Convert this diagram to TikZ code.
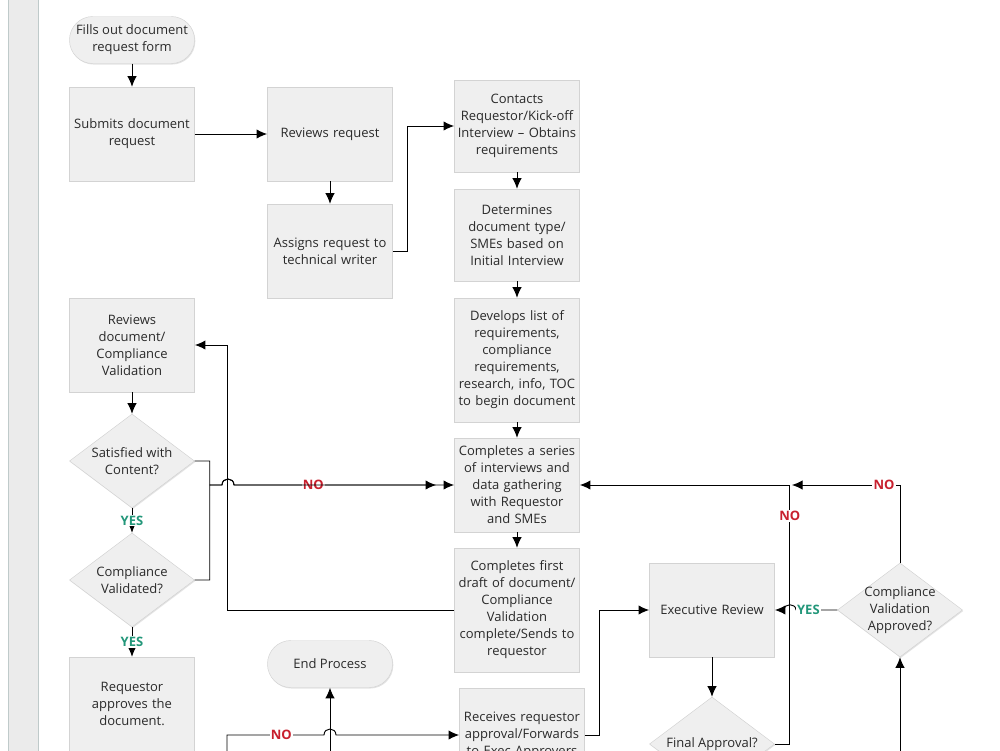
\documentclass[tikz,border=0pt]{standalone}
\usepackage{fontspec}
\setmainfont{Open Sans}
\usetikzlibrary{arrows.meta,shapes.geometric,shadows,positioning}
\definecolor{boxfill}{HTML}{EFEFEF}
\definecolor{boxline}{HTML}{D3D3D3}
\definecolor{lanecol}{HTML}{BFCACA}
\definecolor{bandfill}{HTML}{EBEBEB}
\definecolor{txtcol}{HTML}{2A2A2A}
\definecolor{nored}{HTML}{C8202E}
\definecolor{yesgreen}{HTML}{23977A}
\tikzset{>={Latex[length=9pt,width=8pt]}}
\tikzset{
  every node/.style={font=\fontsize{11.1}{14.5}\selectfont, text=txtcol},
  procbox/.style={rectangle, fill=boxfill, draw=boxline,
    drop shadow={opacity=0.22, shadow xshift=0.7pt, shadow yshift=-0.9pt},
    minimum width=3.75cm, minimum height=2.82cm, text width=3.7cm,
    inner sep=0.3mm, align=center},
  tallbox/.style={procbox, minimum height=3.72cm},
  termbox/.style={rectangle, rounded corners=0.7cm, fill=boxfill, draw=boxline,
    drop shadow={opacity=0.22, shadow xshift=0.7pt, shadow yshift=-0.9pt},
    minimum width=3.75cm, minimum height=1.41cm, align=center, inner sep=0.5mm},
  decbox/.style={diamond, fill=boxfill, draw=boxline,
    drop shadow={opacity=0.22, shadow xshift=0.7pt, shadow yshift=-0.9pt},
    aspect=1.33, inner sep=-0.3cm, minimum width=3.75cm, minimum height=2.82cm,
    align=center},
  flow/.style={->, line width=0.8pt, black},
  nolab/.style={font=\fontsize{11.1}{14.5}\selectfont\bfseries, text=nored,
    fill=white, inner sep=1pt},
  yeslab/.style={font=\fontsize{11.1}{14.5}\selectfont\bfseries, text=yesgreen,
    fill=white, inner sep=1pt},
  lane/.style={draw=lanecol, line width=0.55pt, double, double distance=0.9pt}
}
\begin{document}
\begin{tikzpicture}[x=0.03cm, y=-0.03cm]
\useasboundingbox (0,0) rectangle (1000,750);
\clip (0,0) rectangle (1000,750);
\fill[white] (0,0) rectangle (1000,750);
\filldraw[fill=bandfill, draw=lanecol, line width=0.8pt] (8,-5) rectangle (38,760);
\foreach \lx in {237,424,617,806,993}
  \draw[lane] (\lx,-5) -- (\lx,760);

\node[termbox] (start) at (132,40) {Fills out document\\request form};
\node[procbox] (submit) at (132,134) {Submits document\\request};
\node[procbox] (review) at (330,134) {Reviews request};
\node[procbox] (assign) at (330,251) {Assigns request to\\technical writer};
\node[procbox, minimum height=2.76cm] (contact) at (517,126) {Contacts\\Requestor/Kick-off\\Interview -- Obtains\\requirements};
\node[procbox, minimum height=2.76cm] (determine) at (517,235) {Determines\\document type/\\SMEs based on\\Initial Interview};
\node[tallbox] (develop) at (517,360) {Develops list of\\requirements,\\compliance\\requirements,\\research, info, TOC\\to begin document};
\node[procbox] (series) at (517,485) {Completes a series\\of interviews and\\data gathering\\with Requestor\\and SMEs};
\node[tallbox] (draft) at (517,610) {Completes first\\draft of document/\\Compliance\\Validation\\complete/Sends to\\requestor};
\node[procbox] (receive) at (522,735) {Receives requestor\\approval/Forwards\\to Exec Approvers};
\node[procbox] (rdoc) at (132,345) {Reviews\\document/\\Compliance\\Validation};
\node[decbox] (sat) at (132,461) {Satisfied with\\Content?};
\node[decbox] (cval) at (132,580) {Compliance\\Validated?};
\node[procbox] (approve) at (132,704) {Requestor\\approves the\\document.};
\node[termbox] (endp) at (330,664) {End Process};
\node[procbox] (exec) at (712,610) {Executive Review};
\node[decbox] (final) at (712,744) {Final Approval?};
\node[decbox] (cva) at (900,610) {Compliance\\Validation\\Approved?};

\coordinate (b1) at (227,760);
\coordinate (b2) at (330,760);
\coordinate (b3) at (900,760);
\coordinate (merge) at (792,485);

\draw[flow] (start) -- (submit);
\draw[flow] (submit) -- (review);
\draw[flow] (review) -- (assign);
\draw[flow] (assign.east) -- ++(15,0) |- (contact.west);
\draw[flow] (contact) -- (determine);
\draw[flow] (determine) -- (develop);
\draw[flow] (develop) -- (series);
\draw[flow] (series) -- (draft);
\draw[flow] (draft.west) -- ++(-227,0) |- (rdoc.east);
\draw[flow] (rdoc) -- (sat);
\draw[flow] (sat) -- node[yeslab]{YES} (cval);
\draw[flow] (cval) -- node[yeslab]{YES} (approve);
\draw[flow] (sat.east) -- ++(15,0) |- (222,485) .. controls (222,477) and (234,477) .. (234,485)
  -- node[nolab, pos=0.36]{NO} (series.west);
\draw[flow, shorten >=0.54cm] (cval.east) -- ++(15,0) |- (222,485) .. controls (222,477) and (234,477) .. (234,485)
  -- (series.west);
\draw[flow] (b1) |- node[nolab, pos=0.78]{NO} (324,735) .. controls (324,727) and (336,727) .. (336,735)
  -- (receive.west);
\draw[flow] (b2) -- (endp);
\draw[flow] (receive.east) -- ++(15,0) |- (exec.west);
\draw[flow] (exec) -- (final);
\draw[flow] (final.east) -- ++(15,0) |- node[nolab, pos=0.44]{NO} (series.east);
\draw[flow] (cva.north) |- node[nolab, pos=0.574]{NO} (merge);
\draw[flow] (cva.west) -- node[yeslab, pos=0.7]{YES} (796,610) .. controls (796,603) and (784,603) .. (784,610)
  -- (exec.east);
\draw[flow] (b3) -- (cva);
\end{tikzpicture}
\end{document}
